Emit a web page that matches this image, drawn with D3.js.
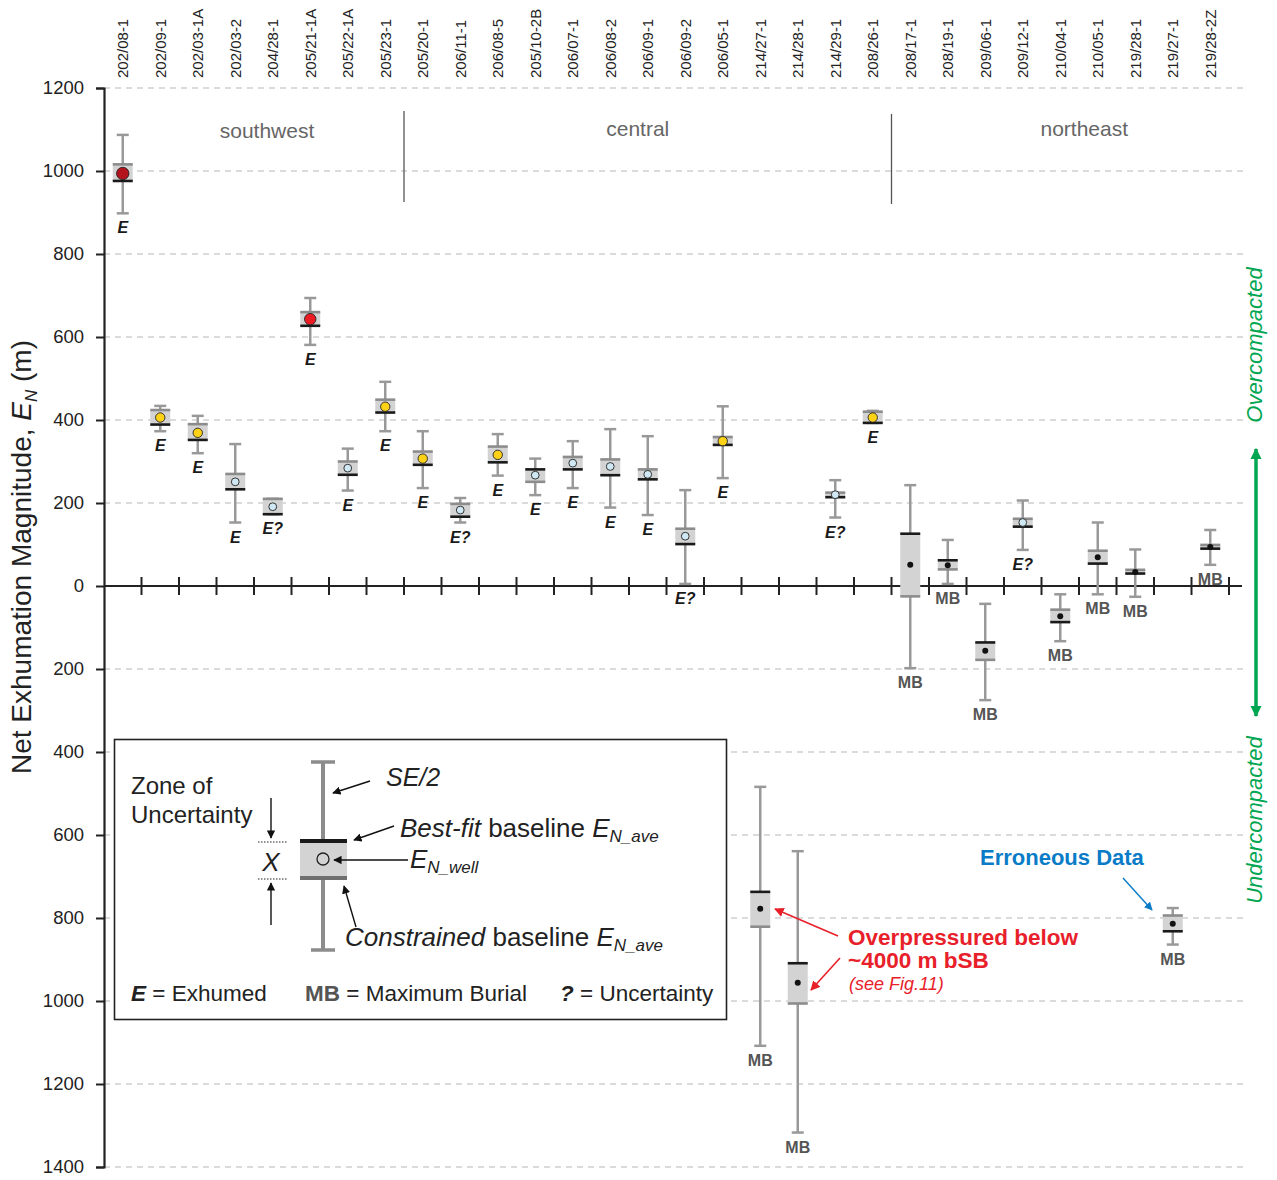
<!DOCTYPE html>
<html><head><meta charset="utf-8">
<script src="https://cdn.jsdelivr.net/npm/d3@7"></script>
<style>body{margin:0;background:#fff}svg{display:block;font-family:"Liberation Sans",Arial,Helvetica,sans-serif}</style>
</head><body>
<script>
// ---------- data ----------
const wells = ["202/08-1","202/09-1","202/03-1A","202/03-2","204/28-1","205/21-1A","205/22-1A","205/23-1","205/20-1","206/11-1","206/08-5","205/10-2B","206/07-1","206/08-2","206/09-1","206/09-2","206/05-1","214/27-1","214/28-1","214/29-1","208/26-1","208/17-1","208/19-1","209/06-1","209/12-1","210/04-1","210/05-1","219/28-1","219/27-1","219/28-2Z"];
const wellValue   = [994,406,369,251,191,643,284,432,307,183,316,267,296,288,269,120,349,-778,-956,220,406,51,50,-156,153,-73,69,34,-814,94];
const bestFit     = [976,389,352,233,173,627,268,418,292,167,298,281,281,267,257,101,340,-737,-909,214,393,126,62,-136,143,-87,54,30,-832,90];
const constrained = [1016,424,390,270,210,660,300,449,324,198,336,251,311,305,281,138,359,-821,-1006,225,420,-25,40,-178,162,-57,85,39,-794,99];
const seTop       = [1087,434,410,342,210,694,331,492,373,212,366,307,349,378,361,231,433,-484,-639,255,422,243,111,-43,206,-20,153,88,-776,135];
const seBottom    = [898,373,320,153,173,581,230,373,236,153,266,219,236,189,171,5,260,-1108,-1317,165,393,-198,5,-275,87,-133,-20,-26,-864,51];
const markerType  = ["darkred","yellow","yellow","blue","blue","red","blue","yellow","yellow","blue","yellow","blue","blue","blue","blue","blue","yellow","black","black","blue","yellow","black","black","black","blue","black","black","black","black","black"];
const status      = ["E","E","E","E","E?","E","E","E","E","E?","E","E","E","E","E","E?","E","MB","MB","E?","E","MB","MB","MB","E?","MB","MB","MB","MB","MB"];
const regions     = ["southwest","central","northeast"];
const regionStart = [0,8,21];
const regionEnd   = [7,20,29];
const yTicks      = [1200,1000,800,600,400,200,0,-200,-400,-600,-800,-1000,-1200,-1400];

// ---------- styles ----------
const markerColor = {darkred:"#b3131c", red:"#ed1c24", yellow:"#fcd116", blue:"#cfe8f3", black:"#111"};
const markerR = {darkred:6.2, red:5.7, yellow:4.7, blue:3.9, black:3};
const regionShift = [13, -10, 24];

const W = 1277, H = 1180;
const svg = d3.select("body").append("svg").attr("width", W).attr("height", H);

const x = d3.scaleBand().domain(wells).range([104, 1229]).padding(0);
const y = d3.scaleLinear().domain([-1400, 1200]).range([1167, 88]);
const cx = w => x(w) + x.bandwidth() / 2;

// grid
svg.append("g").selectAll("line").data(yTicks.filter(d => d !== 0)).join("line")
  .attr("x1", 104).attr("x2", 1243).attr("y1", d => y(d)).attr("y2", d => y(d))
  .attr("stroke", "#cfcfcf").attr("stroke-width", 1.3).attr("stroke-dasharray", "6,5");

// y axis
const yAxis = svg.append("g").attr("transform", "translate(104,0)")
  .call(d3.axisLeft(y).tickValues(yTicks).tickFormat(d => Math.abs(d)).tickSize(8).tickPadding(12));
yAxis.select(".domain").attr("stroke", "#222").attr("stroke-width", 2.2);
yAxis.selectAll(".tick line").attr("stroke", "#222").attr("stroke-width", 2);
yAxis.selectAll(".tick text").attr("font-size", 18.5).attr("fill", "#222").attr("font-family", "Liberation Sans, Arial, sans-serif");

// x axis at zero
const xAxisG = svg.append("g");
xAxisG.append("line").attr("x1", 104).attr("x2", 1242).attr("y1", y(0)).attr("y2", y(0))
  .attr("stroke", "#222").attr("stroke-width", 2.2);
xAxisG.selectAll("line.tk").data(wells).join("line").attr("class", "tk")
  .attr("x1", d => x(d) + x.bandwidth()).attr("x2", d => x(d) + x.bandwidth())
  .attr("y1", y(0) - 9).attr("y2", y(0) + 9).attr("stroke", "#222").attr("stroke-width", 2);

// top labels
svg.append("g").selectAll("text").data(wells).join("text")
  .attr("transform", d => `translate(${cx(d) + 5.5},78) rotate(-90)`)
  .attr("font-size", 15).attr("fill", "#222").text(d => d);

// region labels & dividers
svg.append("g").selectAll("text").data(regions).join("text")
  .attr("x", (d, i) => (x(wells[regionStart[i]]) + x(wells[regionEnd[i]]) + x.bandwidth()) / 2 + regionShift[i])
  .attr("y", (d, i) => i === 0 ? 138 : 136).attr("text-anchor", "middle")
  .attr("font-size", 21).attr("fill", "#666").text(d => d);
svg.append("g").selectAll("line").data(regionStart.slice(1)).join("line")
  .attr("x1", d => x(wells[d])).attr("x2", d => x(wells[d]))
  .attr("y1", (d, i) => i === 0 ? 111 : 114).attr("y2", (d, i) => i === 0 ? 202 : 204)
  .attr("stroke", "#555").attr("stroke-width", 1.3);

// data marks
const boxW = 20, capW = 12;
const g = svg.append("g").selectAll("g").data(wells).join("g");
g.append("line").attr("x1", d => cx(d)).attr("x2", d => cx(d))
  .attr("y1", (d, i) => y(seTop[i])).attr("y2", (d, i) => y(seBottom[i]))
  .attr("stroke", "#999").attr("stroke-width", 2.5);
["top", "bot"].forEach(k => {
  g.append("line").attr("x1", d => cx(d) - capW / 2).attr("x2", d => cx(d) + capW / 2)
    .attr("y1", (d, i) => y(k === "top" ? seTop[i] : seBottom[i]))
    .attr("y2", (d, i) => y(k === "top" ? seTop[i] : seBottom[i]))
    .attr("stroke", "#999").attr("stroke-width", 2.5);
});
g.append("rect").attr("x", d => cx(d) - boxW / 2).attr("width", boxW)
  .attr("y", (d, i) => y(Math.max(bestFit[i], constrained[i])))
  .attr("height", (d, i) => Math.abs(y(bestFit[i]) - y(constrained[i])))
  .attr("fill", "#d3d3d3");
g.append("line").attr("x1", d => cx(d) - boxW / 2).attr("x2", d => cx(d) + boxW / 2)
  .attr("y1", (d, i) => y(constrained[i])).attr("y2", (d, i) => y(constrained[i]))
  .attr("stroke", "#8c8c8c").attr("stroke-width", 2.6);
g.append("line").attr("x1", d => cx(d) - boxW / 2).attr("x2", d => cx(d) + boxW / 2)
  .attr("y1", (d, i) => y(bestFit[i])).attr("y2", (d, i) => y(bestFit[i]))
  .attr("stroke", "#1a1a1a").attr("stroke-width", 2.6);
g.append("circle").attr("cx", d => cx(d)).attr("cy", (d, i) => y(wellValue[i]))
  .attr("r", (d, i) => markerR[markerType[i]])
  .attr("fill", (d, i) => markerColor[markerType[i]])
  .attr("stroke", (d, i) => markerType[i] === "black" ? "none" : "#222").attr("stroke-width", 0.9);
g.append("text").attr("x", d => cx(d)).attr("y", (d, i) => y(Math.min(seBottom[i], bestFit[i], constrained[i])) + 20)
  .attr("text-anchor", "middle").attr("font-size", 16).attr("font-weight", "bold")
  .attr("font-style", (d, i) => status[i] === "MB" ? "normal" : "italic")
  .attr("fill", (d, i) => status[i] === "MB" ? "#555" : "#1a1a1a")
  .text((d, i) => status[i]);

// y title
const yt = svg.append("text").attr("transform", "translate(31,557) rotate(-90)")
  .attr("text-anchor", "middle").attr("font-size", 28).attr("fill", "#222");
yt.append("tspan").text("Net Exhumation Magnitude, ");
yt.append("tspan").attr("font-style", "italic").text("E");
yt.append("tspan").attr("font-style", "italic").attr("font-size", 17).attr("dy", 6).text("N");
yt.append("tspan").attr("dy", -6).text(" (m)");

// right side green arrow
const green = "#00a651";
const defs = svg.append("defs");
function marker(id, color) {
  defs.append("marker").attr("id", id).attr("viewBox", "0 0 10 10").attr("refX", 9).attr("refY", 5)
    .attr("markerWidth", 6).attr("markerHeight", 6).attr("orient", "auto-start-reverse")
    .append("path").attr("d", "M0,0 L10,5 L0,10 z").attr("fill", color);
}
marker("ag", green); marker("ab", "#111"); marker("ar", "#e8202a"); marker("au", "#0a7cc7");
defs.append("marker").attr("id", "agb").attr("viewBox", "0 0 10 10").attr("refX", 9).attr("refY", 5)
  .attr("markerWidth", 3.2).attr("markerHeight", 4).attr("orient", "auto-start-reverse")
  .append("path").attr("d", "M0,0 L10,5 L0,10 z").attr("fill", green);
svg.append("line").attr("x1", 1256).attr("x2", 1256).attr("y1", 449).attr("y2", 716)
  .attr("stroke", green).attr("stroke-width", 3.5)
  .attr("marker-start", "url(#agb)").attr("marker-end", "url(#agb)");
svg.append("text").attr("transform", "translate(1262,345) rotate(-90)").attr("text-anchor", "middle")
  .attr("font-size", 22).attr("font-style", "italic").attr("fill", green).text("Overcompacted");
svg.append("text").attr("transform", "translate(1262,820) rotate(-90)").attr("text-anchor", "middle")
  .attr("font-size", 22).attr("font-style", "italic").attr("fill", green).text("Undercompacted");

// annotations
function arrow(x1, y1, x2, y2, color, m, w) {
  svg.append("line").attr("x1", x1).attr("y1", y1).attr("x2", x2).attr("y2", y2)
    .attr("stroke", color).attr("stroke-width", w || 1.5).attr("marker-end", `url(#${m})`);
}
svg.append("text").attr("x", 980).attr("y", 865).attr("font-size", 22).attr("font-weight", "bold")
  .attr("fill", "#0a7cc7").text("Erroneous Data");
arrow(1123, 878, 1152, 910, "#0a7cc7", "au", 1.4);
const red = "#e8202a";
svg.append("text").attr("x", 848).attr("y", 945).attr("font-size", 22.5).attr("font-weight", "bold").attr("fill", red).text("Overpressured below");
svg.append("text").attr("x", 848).attr("y", 968).attr("font-size", 22.5).attr("font-weight", "bold").attr("fill", red).text("~4000 m bSB");
svg.append("text").attr("x", 849).attr("y", 990).attr("font-size", 18).attr("font-style", "italic").attr("fill", red).text("(see Fig.11)");
arrow(838, 936, 775, 909, red, "ar", 1.6);
arrow(840, 958, 811, 990, red, "ar", 1.6);

// legend
const L = svg.append("g");
L.append("rect").attr("x", 114.5).attr("y", 739.5).attr("width", 612).attr("height", 280)
  .attr("fill", "#fff").attr("stroke", "#222").attr("stroke-width", 1.6);
L.append("line").attr("x1", 323).attr("x2", 323).attr("y1", 762).attr("y2", 950).attr("stroke", "#8c8c8c").attr("stroke-width", 4);
L.append("line").attr("x1", 311).attr("x2", 335).attr("y1", 762).attr("y2", 762).attr("stroke", "#8c8c8c").attr("stroke-width", 3.5);
L.append("line").attr("x1", 311).attr("x2", 335).attr("y1", 950).attr("y2", 950).attr("stroke", "#8c8c8c").attr("stroke-width", 3.5);
L.append("rect").attr("x", 300).attr("y", 841).attr("width", 47).attr("height", 38).attr("fill", "#d3d3d3");
L.append("line").attr("x1", 300).attr("x2", 347).attr("y1", 841).attr("y2", 841).attr("stroke", "#1a1a1a").attr("stroke-width", 4);
L.append("line").attr("x1", 300).attr("x2", 347).attr("y1", 878).attr("y2", 878).attr("stroke", "#6f6f6f").attr("stroke-width", 4);
L.append("circle").attr("cx", 323).attr("cy", 859).attr("r", 6).attr("fill", "none").attr("stroke", "#222").attr("stroke-width", 1.3);
L.append("line").attr("x1", 258).attr("x2", 288).attr("y1", 842).attr("y2", 842).attr("stroke", "#222").attr("stroke-width", 1.2).attr("stroke-dasharray", "1.5,1.5");
L.append("line").attr("x1", 258).attr("x2", 288).attr("y1", 879).attr("y2", 879).attr("stroke", "#222").attr("stroke-width", 1.2).attr("stroke-dasharray", "1.5,1.5");
arrow(271, 798, 271, 838, "#111", "ab", 1.4);
arrow(271, 925, 271, 883, "#111", "ab", 1.4);
L.append("text").attr("x", 271).attr("y", 871).attr("text-anchor", "middle").attr("font-size", 26).attr("font-style", "italic").attr("fill", "#222").text("X");
L.append("text").attr("x", 131).attr("y", 794).attr("font-size", 24).attr("fill", "#222").text("Zone of");
L.append("text").attr("x", 131).attr("y", 823).attr("font-size", 24).attr("fill", "#222").text("Uncertainty");

arrow(370, 781, 333, 793, "#111", "ab", 1.4);
L.append("text").attr("x", 386).attr("y", 786).attr("font-size", 25).attr("font-style", "italic").attr("fill", "#222").text("SE/2");
arrow(394, 826, 354, 840, "#111", "ab", 1.4);
const bf = L.append("text").attr("x", 400).attr("y", 837).attr("font-size", 26).attr("fill", "#222");
bf.append("tspan").attr("font-style", "italic").text("Best-fit");
bf.append("tspan").text(" baseline ");
bf.append("tspan").attr("font-style", "italic").text("E");
bf.append("tspan").attr("font-style", "italic").attr("font-size", 17).attr("dy", 5).text("N_ave");
arrow(408, 860, 334, 860, "#111", "ab", 1.4);
const ew = L.append("text").attr("x", 410).attr("y", 868).attr("font-size", 26).attr("fill", "#222");
ew.append("tspan").attr("font-style", "italic").text("E");
ew.append("tspan").attr("font-style", "italic").attr("font-size", 17).attr("dy", 5).text("N_well");
arrow(356, 927, 344, 886, "#111", "ab", 1.4);
const cb = L.append("text").attr("x", 345).attr("y", 946).attr("font-size", 26).attr("fill", "#222");
cb.append("tspan").attr("font-style", "italic").text("Constrained");
cb.append("tspan").text(" baseline ");
cb.append("tspan").attr("font-style", "italic").text("E");
cb.append("tspan").attr("font-style", "italic").attr("font-size", 17).attr("dy", 5).text("N_ave");

const r1 = L.append("text").attr("x", 131).attr("y", 1001).attr("font-size", 22.5).attr("fill", "#222");
r1.append("tspan").attr("font-weight", "bold").attr("font-style", "italic").text("E");
r1.append("tspan").text(" = Exhumed");
const r2 = L.append("text").attr("x", 305).attr("y", 1001).attr("font-size", 22.5).attr("fill", "#222");
r2.append("tspan").attr("font-weight", "bold").attr("fill", "#555").text("MB");
r2.append("tspan").text(" = Maximum Burial");
const r3 = L.append("text").attr("x", 560).attr("y", 1001).attr("font-size", 22.5).attr("fill", "#222");
r3.append("tspan").attr("font-weight", "bold").attr("font-style", "italic").text("?");
r3.append("tspan").text(" = Uncertainty");
</script>
</body></html>
